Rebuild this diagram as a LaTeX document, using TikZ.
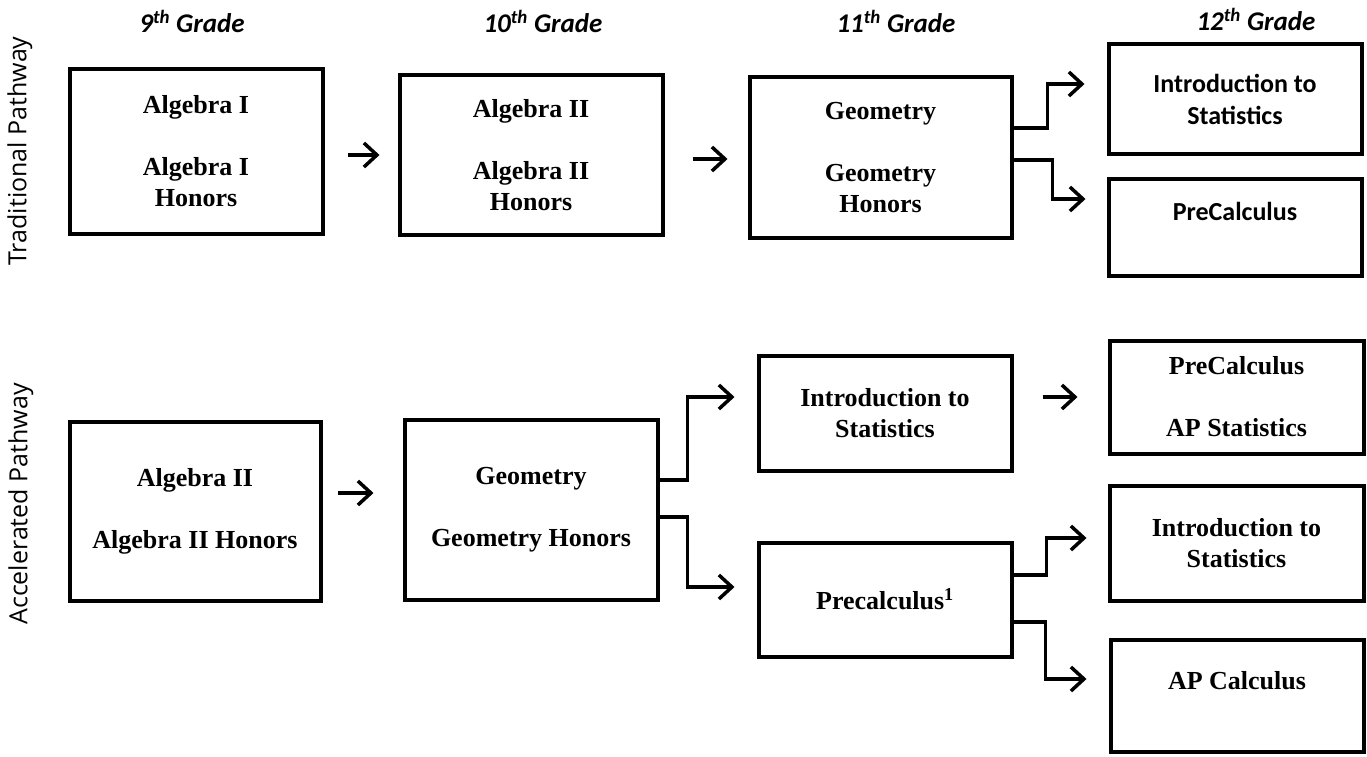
\documentclass[tikz,border=0pt]{standalone}
\usepackage{fontspec}
\setmainfont{Liberation Serif}
\newfontfamily\carlito{Carlito}
\newfontfamily\opensans{Open Sans}
\usetikzlibrary{arrows.meta}
\begin{document}
\begin{tikzpicture}[x=1pt,y=-1pt,
  box/.style={draw, line width=4pt, inner sep=0pt, align=center},
  serif/.style={font=\fontsize{26}{31}\selectfont\bfseries},
  sans/.style={font=\fontsize{26}{32}\selectfont\carlito\bfseries},
  arr/.style={line width=3.5pt, line join=miter, -{Straight Barb[length=13pt,width=24pt]}},
  grade/.style={font=\fontsize{27}{32}\selectfont\carlito\bfseries\itshape, anchor=base},
  side/.style={font=\fontsize{25}{30}\selectfont\opensans, rotate=90}
]
\useasboundingbox (0,0) rectangle (1367,757);

% side labels
\node[side] (trad) at (20,151) {Traditional Pathway};
\node[side] (acc) at (21,504) {Accelerated Pathway};

% grade headings
\node[grade] (g9) at (192,33) {9\textsuperscript{th} Grade};
\node[grade] (g10) at (543,33) {10\textsuperscript{th} Grade};
\node[grade] (g11) at (896,33) {11\textsuperscript{th} Grade};
\node[grade] (g12) at (1256,31) {12\textsuperscript{th} Grade};

% traditional pathway
\node[box, serif, minimum width=253pt, minimum height=164pt] (B1) at (196,151.5) {Algebra I\\[31pt]Algebra I\\Honors};
\node[box, serif, minimum width=263pt, minimum height=159pt] (B2) at (531,155) {Algebra II\\[31pt]Algebra II\\Honors};
\node[box, serif, minimum width=262pt, minimum height=160pt] (B3) at (880.5,157.5) {Geometry\\[31pt]Geometry\\Honors};
\node[box, sans, minimum width=253pt, minimum height=109pt] (B4) at (1235,99) {Introduction to\\Statistics};
\node[box, sans, minimum width=253pt, minimum height=97pt] (B5) at (1235,227) {PreCalculus\\\mbox{}};

\draw[arr] ([shift={(23,3.5)}]B1.east) -- ([shift={(-18,0)}]B2.west);
\draw[arr] ([shift={(28,4)}]B2.east) -- ([shift={(-20,1.5)}]B3.west);
\draw[arr] ([shift={(0,-29.5)}]B3.east) -- ++(34,0) |- ([shift={(-22,-15)}]B4.west);
\draw[arr] ([shift={(0,2.5)}]B3.east) -- ++(39,0) |- ([shift={(-21,-28)}]B5.west);

% accelerated pathway
\node[box, serif, minimum width=251pt, minimum height=179pt] (A1) at (195,511) {Algebra II\\[31pt]Algebra II Honors};
\node[box, serif, minimum width=253pt, minimum height=180pt] (A2) at (531,509.5) {Geometry\\[31pt]Geometry Honors};
\node[box, serif, minimum width=253pt, minimum height=115pt] (A3) at (885,413) {Introduction to\\Statistics};
\node[box, serif, minimum width=254pt, minimum height=113pt] (A4) at (1236.5,397) {PreCalculus\\[31pt]AP Statistics};
\node[box, serif, minimum width=253pt, minimum height=114pt] (A5) at (885,599.5) {Precalculus\textsuperscript{1}};
\node[box, serif, minimum width=254pt, minimum height=115pt] (A6) at (1236.5,543) {Introduction to\\Statistics};
\node[box, serif, minimum width=253pt, minimum height=112pt] (A7) at (1237,695.5) {AP Calculus\\\mbox{}};

\draw[arr] ([shift={(15,-18)}]A1.east) -- ([shift={(-29,-16.5)}]A2.west);
\draw[arr] ([shift={(0,-29.5)}]A2.east) -- ++(28,0) |- ([shift={(-22,-16)}]A3.west);
\draw[arr] ([shift={(0,7.5)}]A2.east) -- ++(28,0) |- ([shift={(-22,-12.5)}]A5.west);
\draw[arr] ([shift={(29,-16)}]A3.east) -- ([shift={(-30,0)}]A4.west);
\draw[arr] ([shift={(0,-24.5)}]A5.east) -- ++(33,0) |- ([shift={(-21,-5)}]A6.west);
\draw[arr] ([shift={(0,22.5)}]A5.east) -- ++(32,0) |- ([shift={(-22,-16.5)}]A7.west);
\end{tikzpicture}
\end{document}
